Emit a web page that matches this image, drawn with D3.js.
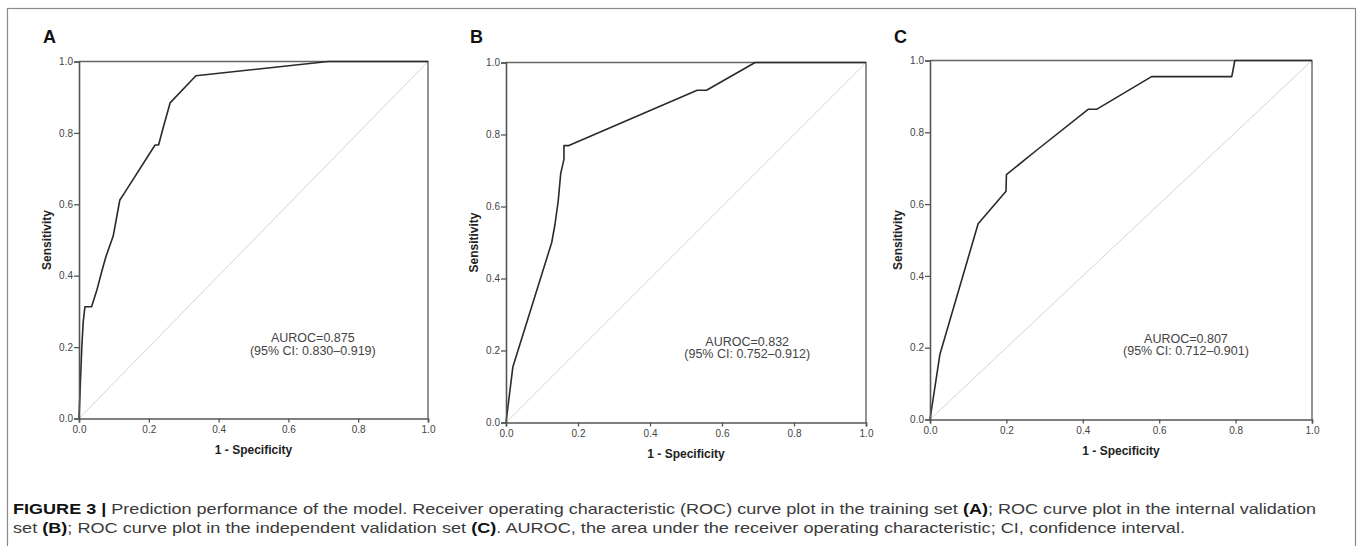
<!DOCTYPE html>
<html>
<head>
<meta charset="utf-8">
<script src="https://cdn.jsdelivr.net/npm/d3@7"></script>
<style>
  body { margin: 0; background: #fff; }
  text { font-family: "Liberation Sans", Arial, sans-serif; }
</style>
</head>
<body>
<div id="chart"></div>
<script>
// ROC curve points (1 - specificity, sensitivity).
const fprA = [0, 0.008, 0.012, 0.017, 0.036, 0.051, 0.065, 0.077, 0.098, 0.117, 0.129, 0.218, 0.228, 0.242, 0.261, 0.335, 0.714, 1];
const tprA = [0, 0.20, 0.27, 0.313, 0.313, 0.359, 0.411, 0.453, 0.511, 0.612, 0.630, 0.766, 0.766, 0.817, 0.884, 0.960, 1, 1];

const fprB = [0, 0.019, 0.127, 0.136, 0.145, 0.152, 0.161, 0.161, 0.173, 0.531, 0.557, 0.692, 1];
const tprB = [0, 0.154, 0.5, 0.55, 0.615, 0.692, 0.731, 0.769, 0.769, 0.923, 0.923, 1, 1];

const fprC = [0, 0.026, 0.126, 0.199, 0.2, 0.279, 0.414, 0.436, 0.58, 0.79, 0.798, 1];
const tprC = [0, 0.182, 0.545, 0.636, 0.682, 0.75, 0.864, 0.864, 0.955, 0.955, 1, 1];

const panelLabels = ["A", "B", "C"];
const aurocValues = ["0.875", "0.832", "0.807"];
const ciValues = ["0.830–0.919", "0.752–0.912", "0.712–0.901"];
const axisTicks = [0, 0.2, 0.4, 0.6, 0.8, 1.0];

// Plot boxes for the three panels.
const boxes = [
  { left: 79, top: 61.5, right: 428, bottom: 418.5 },
  { left: 506, top: 62.5, right: 866, bottom: 422.5 },
  { left: 930, top: 60.5, right: 1312, bottom: 419.5 }
];
const curves = [[fprA, tprA], [fprB, tprB], [fprC, tprC]];

const width = 1357;
const height = 546;

const svg = d3.select("#chart")
  .append("svg")
  .attr("width", width)
  .attr("height", height);

svg.append("rect")
  .attr("width", width)
  .attr("height", height)
  .attr("fill", "#fff");

// Outer figure frame (runs off the bottom of the picture).
svg.append("rect")
  .attr("x", 7.5)
  .attr("y", 8.5)
  .attr("width", 1348)
  .attr("height", 600)
  .attr("fill", "none")
  .attr("stroke", "#8a8a8a")
  .attr("stroke-width", 1.2);

boxes.forEach(function(b, i) {
  const x = d3.scaleLinear().domain([0, 1]).range([b.left, b.right]);
  const y = d3.scaleLinear().domain([0, 1]).range([b.bottom, b.top]);
  const g = svg.append("g");

  // Panel letter.
  g.append("text")
    .attr("x", b.left - 36)
    .attr("y", 43)
    .attr("font-size", 18)
    .attr("font-weight", "bold")
    .attr("fill", "#111")
    .text(panelLabels[i]);

  // Reference diagonal.
  g.append("line")
    .attr("x1", x(0)).attr("y1", y(0))
    .attr("x2", x(1)).attr("y2", y(1))
    .attr("stroke", "#d4d4d4")
    .attr("stroke-width", 1);

  // Top and right edges of the plot box.
  g.append("path")
    .attr("d", "M" + x(0) + "," + y(1) + "H" + x(1) + "V" + y(0))
    .attr("fill", "none")
    .attr("stroke", "#666")
    .attr("stroke-width", 1.4);

  // ROC curve.
  const pts = curves[i][0].map(function(d, k) { return [d, curves[i][1][k]]; });
  g.append("path")
    .datum(pts)
    .attr("fill", "none")
    .attr("stroke", "#2a2a2a")
    .attr("stroke-width", 1.6)
    .attr("stroke-linejoin", "round")
    .attr("d", d3.line()
      .x(function(d) { return x(d[0]); })
      .y(function(d) { return y(d[1]); }));

  // Axes.
  const fmt = d3.format(".1f");
  const gx = g.append("g")
    .attr("transform", "translate(0," + b.bottom + ")")
    .call(d3.axisBottom(x).tickValues(axisTicks).tickFormat(fmt).tickSize(4).tickPadding(3));
  const gy = g.append("g")
    .attr("transform", "translate(" + b.left + ",0)")
    .call(d3.axisLeft(y).tickValues(axisTicks).tickFormat(fmt).tickSize(5).tickPadding(1));

  [gx, gy].forEach(function(ax) {
    ax.select(".domain").attr("stroke", "#555").attr("stroke-width", 1.6);
    ax.selectAll(".tick line").attr("stroke", "#555").attr("stroke-width", 1.3);
    ax.selectAll(".tick text")
      .attr("font-size", 10)
      .attr("fill", "#444")
      .style("font-family", "'Liberation Sans', Arial, sans-serif");
  });

  // Axis titles.
  g.append("text")
    .attr("x", (b.left + b.right) / 2)
    .attr("y", b.bottom + 35)
    .attr("text-anchor", "middle")
    .attr("font-size", 12)
    .attr("font-weight", "bold")
    .attr("fill", "#222")
    .text("1 - Specificity");

  g.append("text")
    .attr("transform", "translate(" + (b.left - 28) + "," + ((b.top + b.bottom) / 2) + ") rotate(-90)")
    .attr("text-anchor", "middle")
    .attr("font-size", 12)
    .attr("font-weight", "bold")
    .attr("fill", "#222")
    .text("Sensitivity");

  // AUROC annotation.
  const ann = g.append("text")
    .attr("x", x(0.67))
    .attr("y", y(0.225) + 4)
    .attr("text-anchor", "middle")
    .attr("font-size", 12.5)
    .attr("fill", "#444");
  ann.append("tspan").text("AUROC=" + aurocValues[i]);
  ann.append("tspan")
    .attr("x", x(0.67))
    .attr("dy", 12.5)
    .text("(95% CI: " + ciValues[i] + ")");
});

// Figure caption.
const cap1 = svg.append("text")
  .attr("x", 13)
  .attr("y", 514)
  .attr("font-size", 14.5)
  .attr("fill", "#3a3a3a")
  .attr("textLength", 1303)
  .attr("lengthAdjust", "spacingAndGlyphs");
cap1.append("tspan").attr("font-weight", "bold").attr("fill", "#111").text("FIGURE 3 |");
cap1.append("tspan").text(" Prediction performance of the model. Receiver operating characteristic (ROC) curve plot in the training set ");
cap1.append("tspan").attr("font-weight", "bold").attr("fill", "#111").text("(A)");
cap1.append("tspan").text("; ROC curve plot in the internal validation");

const cap2 = svg.append("text")
  .attr("x", 13)
  .attr("y", 533)
  .attr("font-size", 14.5)
  .attr("fill", "#3a3a3a")
  .attr("textLength", 1172)
  .attr("lengthAdjust", "spacingAndGlyphs");
cap2.append("tspan").text("set ");
cap2.append("tspan").attr("font-weight", "bold").attr("fill", "#111").text("(B)");
cap2.append("tspan").text("; ROC curve plot in the independent validation set ");
cap2.append("tspan").attr("font-weight", "bold").attr("fill", "#111").text("(C)");
cap2.append("tspan").text(". AUROC, the area under the receiver operating characteristic; CI, confidence interval.");
</script>
</body>
</html>
